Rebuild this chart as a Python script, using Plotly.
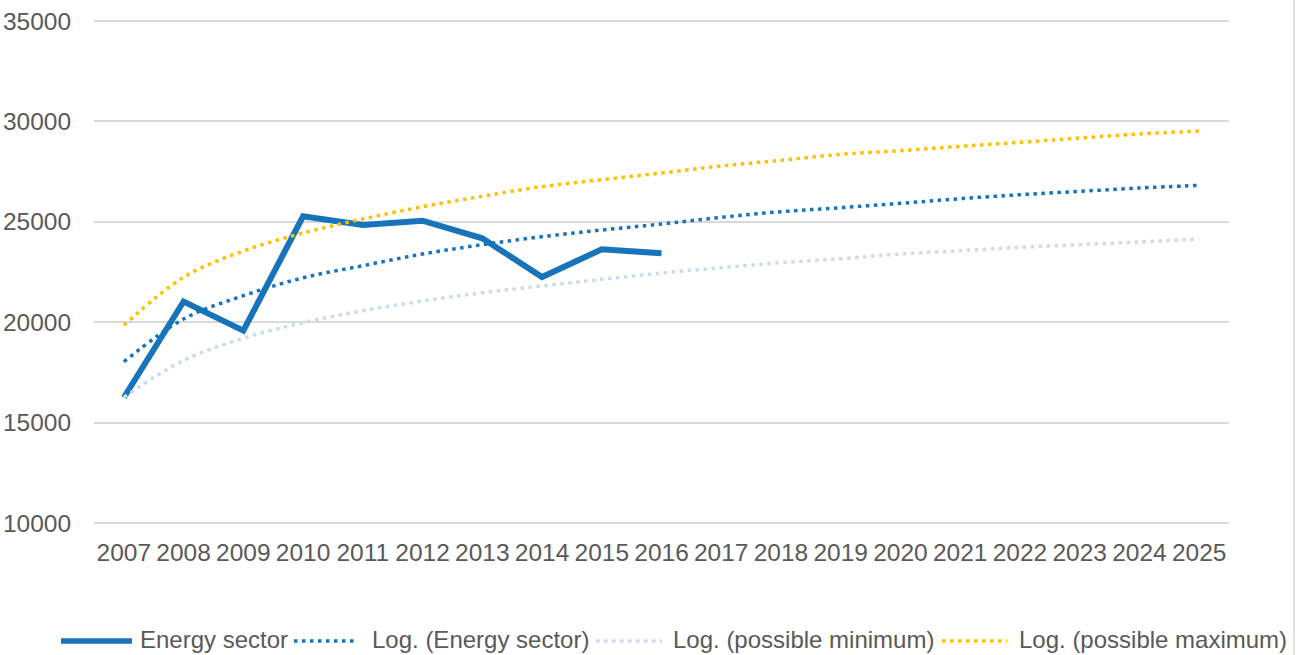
import plotly.graph_objects as go

years = [str(y) for y in range(2007, 2026)]
energy_years = years[:10]
energy = [16250, 21030, 19580, 25270, 24840, 25055, 24180, 22250, 23630, 23430]
log_energy = [18030, 20160, 21320, 22210, 22815, 23396, 23860, 24258, 24591, 24890,
              25224, 25504, 25703, 25920, 26152, 26350, 26517, 26683, 26815]
log_min = [16260, 18100, 19198, 19975, 20573, 21056, 21469, 21803, 22136, 22450,
           22715, 22964, 23163, 23396, 23562, 23728, 23861, 23994, 24143]
log_max = [19845, 22236, 23546, 24440, 25139, 25752, 26270, 26748, 27097, 27430,
           27779, 28061, 28359, 28541, 28758, 28957, 29173, 29372, 29522]
series_names = ["Energy sector", "Log. (Energy sector)",
                "Log. (possible minimum)", "Log. (possible maximum)"]

BLUE = "#1773BA"
LIGHT = "#C9DBEF"
GOLD = "#FFC000"
TXT = "#595959"
FONT = "Liberation Sans, Arial, sans-serif"
DOT = "3.5px,4.5px"

W, H = 1298, 655
L, R, T, B = 94, 69, 17, 128
PW, PH = W - L - R, H - T - B


def px(x):
    return (x - L) / PW


def py(y):
    return (H - B - y) / PH


fig = go.Figure()
styles = [dict(color=BLUE, width=6),
          dict(color=BLUE, width=3.5, dash=DOT, shape="spline"),
          dict(color=LIGHT, width=3.5, dash=DOT, shape="spline"),
          dict(color=GOLD, width=3.5, dash=DOT, shape="spline")]
xs = [energy_years, years, years, years]
ys = [energy, log_energy, log_min, log_max]
for name, x, y, st in zip(series_names, xs, ys, styles):
    fig.add_trace(go.Scatter(x=x, y=y, mode="lines", name=name, line=st,
                             showlegend=False))

fig.update_layout(
    width=W, height=H,
    margin=dict(l=L, r=R, t=T, b=B, autoexpand=False),
    paper_bgcolor="white", plot_bgcolor="white",
    font=dict(family=FONT, size=24, color=TXT),
    showlegend=False,
    xaxis=dict(type="category", categoryorder="array", categoryarray=years,
               range=[-0.5, 18.5], showgrid=False, zeroline=False, showline=False,
               ticks="outside", ticklen=4, tickcolor="rgba(0,0,0,0)", automargin=False,
               tickfont=dict(family=FONT, size=24.5, color=TXT)),
    yaxis=dict(range=[9800, 35200], dtick=5000, tick0=10000, tickformat="d",
               showgrid=True, automargin=False, ticklabeloverflow="allow",
               gridcolor="#D9D9D9", gridwidth=1.5, zeroline=False, showline=False,
               ticks="outside", ticklen=17, tickcolor="rgba(0,0,0,0)",
               tickfont=dict(family=FONT, size=24.5, color=TXT)),
)

# chart border on the right
fig.add_shape(type="line", xref="paper", yref="paper",
              x0=px(1294), x1=px(1294), y0=py(H + 5), y1=py(-5),
              line=dict(color="#D9D9D9", width=1.5), layer="below")

# legend drawn below the plot (symbol x-start, symbol x-end, text x-start)
legend_pos = [(61, 132, 138), (294, 354, 370), (596, 662, 671), (942, 1007, 1017)]
leg_y = 641
for name, st, (s0, s1, tx) in zip(series_names, styles, legend_pos):
    line = dict(color=st["color"], width=5.5 if "dash" not in st else 3.5)
    if "dash" in st:
        line["dash"] = st["dash"]
    fig.add_shape(type="line", xref="paper", yref="paper",
                  x0=px(s0), x1=px(s1), y0=py(leg_y), y1=py(leg_y), line=line)
    fig.add_annotation(xref="paper", yref="paper", x=px(tx), y=py(leg_y - 1.5),
                       xanchor="left", yanchor="middle", showarrow=False, text=name,
                       font=dict(family=FONT, size=24, color=TXT))

fig.write_html("out.html", config={"displayModeBar": False},
               post_script="document.body.style.margin='0';document.body.style.overflow='hidden';")
